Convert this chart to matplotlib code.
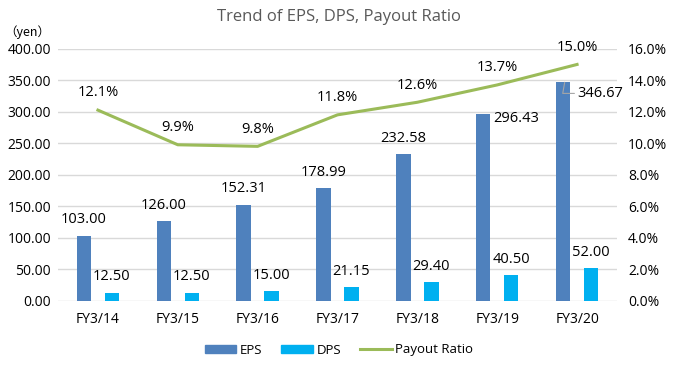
import matplotlib
matplotlib.use("Agg")
import matplotlib.pyplot as plt
import numpy as np
from matplotlib.patches import Patch
from matplotlib.lines import Line2D

categories = ["FY3/14", "FY3/15", "FY3/16", "FY3/17", "FY3/18", "FY3/19", "FY3/20"]
eps = [103.00, 126.00, 152.31, 178.99, 232.58, 296.43, 346.67]
dps = [12.50, 12.50, 15.00, 21.15, 29.40, 40.50, 52.00]
payout = [12.1, 9.9, 9.8, 11.8, 12.6, 13.7, 15.0]
yticks_left = [0, 50, 100, 150, 200, 250, 300, 350, 400]
yticks_right = [0, 2, 4, 6, 8, 10, 12, 14, 16]

plt.rcParams['font.family'] = ['Open Sans', 'DejaVu Sans']

C_EPS = "#4F81BD"
C_DPS = "#00B0F0"
C_LINE = "#9BBB59"

fig = plt.figure(figsize=(6.78, 3.69), dpi=100)
ax = fig.add_axes([58/678, 1-300.7/369, (617-58)/678, (300.7-48.7)/369])
x = np.arange(len(categories))
bw = 0.18
off = 0.175
ax.bar(x - off, eps, bw, color=C_EPS, zorder=3)
ax.bar(x + off, dps, bw, color=C_DPS, zorder=3)
ax.set_xlim(-0.5, len(categories) - 0.5)
ax.set_ylim(0, 400)
ax.set_yticks(yticks_left)
ax.set_yticklabels([f"{v:.2f}" for v in yticks_left], fontsize=10, color="black")
ax.set_xticks(x)
ax.set_xticklabels(categories, fontsize=10, color="black")
ax.tick_params(axis='both', length=0)
ax.tick_params(axis='x', pad=8)
ax.tick_params(axis='y', pad=5)
ax.grid(axis='y', color="#D9D9D9", linewidth=1, zorder=0)
for s in ax.spines.values():
    s.set_visible(False)

for i, (e, d) in enumerate(zip(eps, dps)):
    if i < 5:
        ax.annotate(f"{e:.2f}", (x[i] - off, e), xytext=(0, 6), textcoords="offset points",
                    ha="center", va="bottom", fontsize=10.5, color="black")
    ax.annotate(f"{d:.2f}", (x[i] + off, d), xytext=(0, 6), textcoords="offset points",
                ha="center", va="bottom", fontsize=10.5, color="black")
ax.annotate(f"{eps[5]:.2f}", (x[5] - off + bw/2, eps[5]), xytext=(2, -3), textcoords="offset points",
            ha="left", va="center", fontsize=10.5, color="black")
ax.annotate(f"{eps[6]:.2f}", (x[6] - off + 0.02, eps[6]), xytext=(9, -8), textcoords="offset points",
            ha="left", va="center", fontsize=10.5, color="black",
            arrowprops=dict(arrowstyle="-", color="#A6A6A6", lw=0.8,
                            connectionstyle="angle,angleA=0,angleB=80,rad=0", shrinkA=0, shrinkB=0))

ax2 = ax.twinx()
ax2.plot(x, payout, color=C_LINE, lw=2.2, zorder=4)
ax2.set_ylim(0, 16)
ax2.set_yticks(yticks_right)
ax2.set_yticklabels([f"{v:.1f}%" for v in yticks_right], fontsize=10, color="black")
ax2.tick_params(axis='y', length=0, pad=8)
for s in ax2.spines.values():
    s.set_visible(False)
for i, p in enumerate(payout):
    ax2.annotate(f"{p:.1f}%", (x[i], p), xytext=(0, 7), textcoords="offset points",
                 ha="center", va="bottom", fontsize=10.5, color="black")

fig.text(0.5, 1-17/369, "Trend of EPS, DPS, Payout Ratio", ha="center", va="center",
         fontsize=12, color="#595959")
fig.text(4/678, 1-32/369, "（yen）", ha="left", va="center", fontsize=9,
         family=['Noto Sans CJK JP', 'DejaVu Sans'], color="black")

handles = [Patch(color=C_EPS, label="EPS"), Patch(color=C_DPS, label="DPS"),
           Line2D([0], [0], color=C_LINE, lw=2.2, label="Payout Ratio")]
fig.legend(handles=handles, loc="center", bbox_to_anchor=(0.5, 1-350/369), ncol=3, frameon=False,
           fontsize=9.5, handlelength=2.4, handleheight=0.6, columnspacing=1.4, handletextpad=0.3)

fig.savefig("out.png", dpi=100)
